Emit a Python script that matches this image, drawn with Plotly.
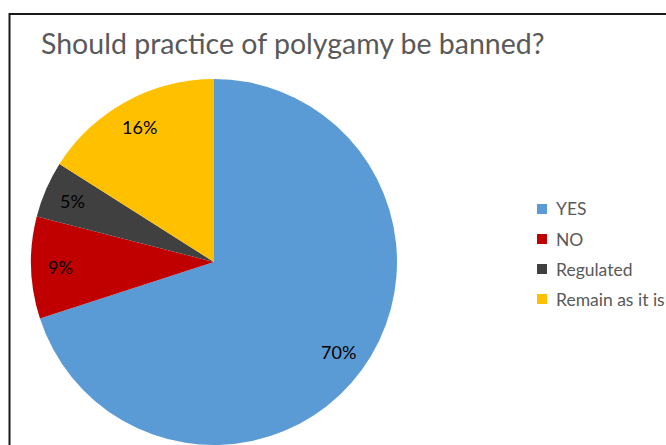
import numpy as np
import plotly.graph_objects as go

# Survey data
categories = ["YES", "NO", "Regulated", "Remain as it is"]
shares = [70, 9, 5, 16]
colors = ["#5B9BD5", "#C00000", "#404040", "#FFC000"]
title_text = "Should practice of polygamy be banned?"

W, H = 666, 445
CX, CY, R = 214, 262, 183  # pie centre and radius in pixels
FONT = "Lato, 'Open Sans', sans-serif"


def px_x(x):
    return x / W


def px_y(y):
    return 1 - y / H


fig = go.Figure()
fig.add_trace(go.Pie(
    labels=categories,
    values=shares,
    marker=dict(colors=colors, line=dict(width=0)),
    sort=False,
    direction="clockwise",
    rotation=0,
    textinfo="none",
    hoverinfo="label+percent",
    showlegend=False,
    domain=dict(x=[px_x(CX - R), px_x(CX + R)], y=[px_y(CY + R), px_y(CY - R)]),
))

annotations = []
shapes = []

# Percentage labels placed at each slice's mid-angle
total = sum(shares)
cum = 0
for v in shares:
    mid = (cum + v / 2) / total * 2 * np.pi
    cum += v
    rf = 0.84
    lx = CX + rf * R * np.sin(mid)
    ly = CY - rf * R * np.cos(mid)
    annotations.append(dict(
        x=px_x(lx), y=px_y(ly), xref="paper", yref="paper",
        text=f"{round(v / total * 100)}%", showarrow=False,
        xanchor="center", yanchor="middle",
        font=dict(family=FONT, size=18, color="#000000"),
    ))

# Title
annotations.append(dict(
    x=px_x(39), y=px_y(43), xref="paper", yref="paper",
    text=title_text, showarrow=False, xanchor="left", yanchor="middle",
    font=dict(family=FONT, size=28.5, color="#595959"),
))

# Legend
LX, LY0, DY, SQ = 537, 209, 30, 10
for i, (lab, col) in enumerate(zip(categories, colors)):
    y = LY0 + i * DY
    shapes.append(dict(
        type="rect", xref="paper", yref="paper",
        x0=px_x(LX), x1=px_x(LX + SQ), y0=px_y(y + SQ / 2), y1=px_y(y - SQ / 2),
        fillcolor=col, line=dict(width=0),
    ))
    annotations.append(dict(
        x=px_x(LX + SQ + 7), y=px_y(y), xref="paper", yref="paper",
        text=lab, showarrow=False, xanchor="left", yanchor="middle",
        font=dict(family=FONT, size=17.5, color="#595959"),
    ))

# Chart frame (top and left edges)
shapes.append(dict(type="line", xref="paper", yref="paper",
                   x0=px_x(9.5), x1=1.0, y0=px_y(14), y1=px_y(14),
                   line=dict(color="#1a1a1a", width=2)))
shapes.append(dict(type="line", xref="paper", yref="paper",
                   x0=px_x(9.5), x1=px_x(9.5), y0=px_y(13), y1=0,
                   line=dict(color="#1a1a1a", width=2)))

fig.update_layout(
    width=W, height=H,
    margin=dict(l=0, r=0, t=0, b=0),
    paper_bgcolor="white", plot_bgcolor="white",
    annotations=annotations, shapes=shapes,
)

fig.write_html("out.html")
